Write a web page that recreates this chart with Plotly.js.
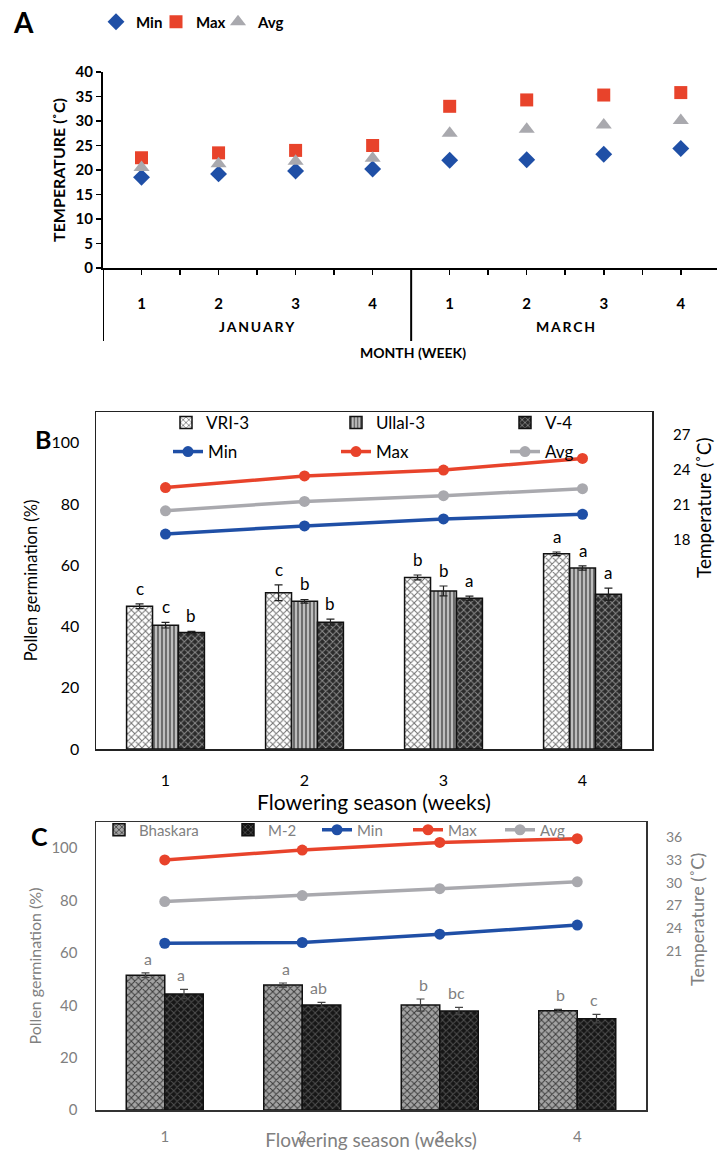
<!DOCTYPE html>
<html><head><meta charset="utf-8">
<script src="https://cdn.plot.ly/plotly-3.0.1.min.js"></script>
<style>html,body{margin:0;padding:0;background:#fff}</style>
</head><body><div id="chart" style="width:717px;height:1151px"></div>
<script>
// ---------- DATA ----------
const weekLabels = ['1','2','3','4'];
const monthNames = ['JANUARY','MARCH'];
// Panel A: weekly temperature (°C), Jan weeks 1-4 then March weeks 1-4
const tempMin = [18.5, 19.2, 19.8, 20.2, 22.0, 22.1, 23.2, 24.4];
const tempMax = [22.5, 23.5, 24.0, 25.0, 33.0, 34.3, 35.3, 35.8];
const tempAvg = [20.5, 21.3, 21.8, 22.4, 27.5, 28.3, 29.2, 30.1];
// Panel B: January pollen germination (%)
const weeks = [1, 2, 3, 4];
const vri3 = [46.6, 51.0, 56.0, 63.7];
const vri3Err = [0.8, 2.6, 0.8, 0.6];
const vri3Sig = ['c', 'c', 'b', 'a'];
const ullal3 = [40.4, 48.2, 51.6, 59.1];
const ullal3Err = [0.9, 0.6, 1.6, 0.7];
const ullal3Sig = ['c', 'b', 'b', 'a'];
const v4 = [38.0, 41.4, 49.2, 50.5];
const v4Err = [0.4, 1.0, 0.7, 2.0];
const v4Sig = ['b', 'b', 'a', 'a'];
// Panel C: March pollen germination (%)
const bhaskara = [51.5, 47.7, 40.1, 37.9];
const bhaskaraErr = [0.9, 0.8, 2.3, 0.5];
const bhaskaraSig = ['a', 'a', 'b', 'b'];
const m2 = [44.3, 40.1, 37.8, 34.9];
const m2Err = [1.8, 1.0, 1.4, 1.6];
const m2Sig = ['a', 'ab', 'bc', 'c'];

// ---------- STYLE ----------
const W = 717, H = 1151;
const px = v => v / W;
const py = v => 1 - v / H;
const FONT = 'Lato, "Open Sans", sans-serif';
const cMin = '#1f4fa6', cMax = '#e8432b', cAvg = '#a9a9ae';
const gray = '#808080';

const janIdx = [0,1,2,3], marIdx = [4,5,6,7];
const pick = (arr, idx) => idx.map(i => arr[i]);

const traces = [];
const legends = {};
let legCount = 0;
// one legend per entry so each entry sits where the reference puts it
function legendAt(symX, rowY, font) {
  legCount++;
  const id = legCount === 1 ? 'legend' : 'legend' + legCount;
  legends[id] = {x:px(symX - 20), y:py(rowY), xanchor:'left', yanchor:'middle', orientation:'v',
    bgcolor:'rgba(0,0,0,0)', borderwidth:0, font, itemwidth:30};
  return id;
}
const fontA = {family:FONT, size:15, weight:'bold', color:'#000'};
const fontB = {family:FONT, size:17, color:'#000'};
const fontC = {family:FONT, size:15, color:gray};

// Panel A
const aX = tempMin.map((_, i) => i);
traces.push({type:'scatter', mode:'markers', name:'Min', x:aX, y:tempMin, xaxis:'x', yaxis:'y',
  legend:legendAt(116, 22, fontA), marker:{symbol:'diamond', size:13, color:cMin}});
traces.push({type:'scatter', mode:'markers', name:'Max', x:aX, y:tempMax, xaxis:'x', yaxis:'y',
  legend:legendAt(176, 22, fontA), marker:{symbol:'square', size:13, color:cMax}});
traces.push({type:'scatter', mode:'markers', name:'Avg', x:aX, y:tempAvg, xaxis:'x', yaxis:'y',
  legend:legendAt(238, 22, fontA), marker:{symbol:'triangle-up', size:14, color:cAvg}});

// bars
function bar(name, y, err, bg, fg, shape, size, xa, ya, lg, ecol) {
  return {type:'bar', name, x:weeks, y, xaxis:xa, yaxis:ya, legend:lg,
    error_y:{type:'data', array:err, visible:true, color:ecol, thickness:1.2, width:4},
    marker:{color:bg, line:{color:'#111', width:1.5},
      pattern:{shape, fgcolor:fg, bgcolor:bg, fillmode:'replace', size, solidity:0.35}}};
}
function line(name, y, col, xa, ya, lg) {
  return {type:'scatter', mode:'lines+markers', name, x:weeks, y, xaxis:xa, yaxis:ya, legend:lg,
    line:{color:col, width:3.5}, marker:{color:col, size:11}};
}
// Panel B
traces.push(bar('VRI-3', vri3, vri3Err, '#ffffff', '#707070', 'x', 5, 'x2', 'y2', legendAt(186, 423, fontB), '#222'));
traces.push(bar('Ullal-3', ullal3, ullal3Err, '#bdbdbd', '#4a4a4a', '|', 4, 'x2', 'y2', legendAt(356, 423, fontB), '#222'));
traces.push(bar('V-4', v4, v4Err, '#2b2b2b', '#8c8c8c', 'x', 5, 'x2', 'y2', legendAt(525, 423, fontB), '#222'));
traces.push(line('Min', pick(tempMin, janIdx), cMin, 'x2', 'y3', legendAt(188, 452, fontB)));
traces.push(line('Max', pick(tempMax, janIdx), cMax, 'x2', 'y3', legendAt(356, 452, fontB)));
traces.push(line('Avg', pick(tempAvg, janIdx), cAvg, 'x2', 'y3', legendAt(525, 452, fontB)));
// Panel C
traces.push(bar('Bhaskara', bhaskara, bhaskaraErr, '#a3a3a3', '#3a3a3a', 'x', 5, 'x3', 'y4', legendAt(119, 830, fontC), '#444'));
traces.push(bar('M-2', m2, m2Err, '#161616', '#505050', 'x', 5, 'x3', 'y4', legendAt(248, 830, fontC), '#444'));
traces.push(line('Min', pick(tempMin, marIdx), cMin, 'x3', 'y5', legendAt(337, 830, fontC)));
traces.push(line('Max', pick(tempMax, marIdx), cMax, 'x3', 'y5', legendAt(428, 830, fontC)));
traces.push(line('Avg', pick(tempAvg, marIdx), cAvg, 'x3', 'y5', legendAt(520, 830, fontC)));

// ---------- ANNOTATIONS ----------
const ann = [];
const label = (text, x, y, size, color, weight) => ({text, x:px(x), y:py(y), xref:'paper', yref:'paper',
  xanchor:'center', yanchor:'middle', showarrow:false, font:{family:FONT, size, color, weight:weight||'bold'}});
ann.push(label('A', 24, 22, 28, '#000'));
ann.push(label('B', 43, 439, 25, '#000'));
ann.push(label('C', 39, 836, 25, '#000'));
// Panel A month labels
const spaced = s => s.split('').join('\u2009');
monthNames.forEach((m, i) => ann.push({text:spaced(m), x:1.5 + 4*i, xref:'x', y:py(326), yref:'paper',
  xanchor:'center', yanchor:'middle', showarrow:false, font:{family:FONT, size:14, weight:'bold', color:'#000'}}));
ann.push(label('MONTH (WEEK)', 413, 352, 14, '#000'));
// Right-side temperature titles
ann.push(Object.assign(label('Temperature (˚C)', 703, 508, 19, '#000', 'normal'), {textangle:-90}));
ann.push(Object.assign(label('Temperature (˚C)', 697, 920, 18, gray, 'normal'), {textangle:-90}));
// Significance letters
function letters(vals, errs, sig, off, xa, ya, col, size) {
  vals.forEach((v, i) => ann.push({text:sig[i], x:weeks[i] + off, y:v + errs[i], xref:xa, yref:ya,
    xanchor:'center', yanchor:'bottom', showarrow:false, yshift:3, font:{family:FONT, size, color:col}}));
}
const bwB = (1 - 0.44) / 3;
letters(vri3, vri3Err, vri3Sig, -bwB, 'x2', 'y2', '#000', 17);
letters(ullal3, ullal3Err, ullal3Sig, 0, 'x2', 'y2', '#000', 17);
letters(v4, v4Err, v4Sig, bwB, 'x2', 'y2', '#000', 17);
const bwC = (1 - 0.52) / 2;
letters(bhaskara, bhaskaraErr, bhaskaraSig, -bwC/2, 'x3', 'y4', gray, 16);
letters(m2, m2Err, m2Sig, bwC/2, 'x3', 'y4', gray, 16);

// ---------- SHAPES ----------
const shapes = [
  {type:'line', xref:'x', yref:'paper', x0:-0.5, x1:-0.5, y0:py(268), y1:py(341), line:{color:'#000', width:2}},
  {type:'line', xref:'x', yref:'paper', x0:3.5, x1:3.5, y0:py(268), y1:py(341), line:{color:'#000', width:2}}
];

// ---------- LAYOUT ----------
const boldTick = {family:FONT, size:15, weight:'bold', color:'#000'};
const layout = Object.assign({
  width:W, height:H, margin:{l:0, r:0, t:0, b:0}, paper_bgcolor:'#fff', plot_bgcolor:'rgba(0,0,0,0)',
  barmode:'group', showlegend:true, font:{family:FONT},
  annotations:ann, shapes,
  // Panel A
  xaxis:{domain:[px(103), 1], range:[-0.5, 7.47], anchor:'y', tickmode:'array',
    tickvals:aX, ticktext:weekLabels.concat(weekLabels), showline:true, linewidth:2, linecolor:'#000',
    ticks:'outside', ticklen:5, tickwidth:1.5, tickcolor:'#000', tickfont:boldTick, ticklabelstandoff:16,
    minor:{tickmode:'array', tickvals:[0.5,1.5,2.5,4.5,5.5,6.5], ticks:'outside', ticklen:5, tickwidth:1.5, tickcolor:'#000'},
    showgrid:false, zeroline:false},
  yaxis:{domain:[py(268), py(72)], range:[0, 40], anchor:'x', dtick:5, showline:true, linewidth:2, linecolor:'#000',
    ticks:'outside', ticklen:5, tickwidth:1.5, tickcolor:'#000', tickfont:boldTick, showgrid:false, zeroline:false,
    title:{text:'TEMPERATURE (˚C)', font:{family:FONT, size:16, weight:'bold', color:'#000'}, standoff:6}},
  // Panel B
  bargap:0.44,
  xaxis2:{domain:[px(96), px(652)], range:[0.5, 4.5], anchor:'y2', tickmode:'array', tickvals:weeks, ticktext:weekLabels,
    showline:true, mirror:true, linewidth:1.5, linecolor:'#222', ticks:'', tickfont:{family:FONT, size:16, color:'#000'},
    ticklabelstandoff:16, showgrid:false, zeroline:false,
    title:{text:'Flowering season (weeks)', font:{family:FONT, size:21, color:'#000'}, standoff:0}},
  yaxis2:{domain:[py(749), py(412)], range:[0, 110], anchor:'x2', tickvals:[0,20,40,60,80,100],
    showline:true, mirror:true, linewidth:1.5, linecolor:'#222', ticks:'', tickfont:{family:FONT, size:16, color:'#000'},
    ticklabelstandoff:12, showgrid:false, zeroline:false,
    title:{text:'Pollen germination (%)', font:{family:FONT, size:16.5, color:'#000'}, standoff:9}},
  yaxis3:{overlaying:'y2', side:'right', anchor:'x2', range:[0, 29], tickvals:[18,21,24,27], showline:false,
    ticks:'', tickfont:{family:FONT, size:15, color:'#000'}, ticklabelstandoff:20, showgrid:false, zeroline:false},
  // Panel C
  xaxis3:{domain:[px(96), px(646)], range:[0.5, 4.5], anchor:'y4', tickmode:'array', tickvals:weeks, ticktext:weekLabels,
    showline:true, mirror:true, linewidth:1.5, linecolor:'#333', ticks:'', tickfont:{family:FONT, size:15, color:gray},
    ticklabelstandoff:12, showgrid:false, zeroline:false,
    title:{text:'Flowering season (weeks)', font:{family:FONT, size:19, color:gray}}},
  yaxis4:{domain:[py(1110), py(822)], range:[0, 110], anchor:'x3', tickvals:[0,20,40,60,80,100],
    showline:true, mirror:true, linewidth:1.5, linecolor:'#333', ticks:'', tickfont:{family:FONT, size:15, color:gray},
    ticklabelstandoff:14, showgrid:false, zeroline:false,
    title:{text:'Pollen germination (%)', font:{family:FONT, size:16, color:gray}, standoff:6}},
  yaxis5:{overlaying:'y4', side:'right', anchor:'x3', range:[0, 38], tickvals:[21,24,27,30,33,36], showline:false,
    ticks:'', tickfont:{family:FONT, size:14, color:gray}, ticklabelstandoff:19, showgrid:false, zeroline:false}
}, legends);
Plotly.newPlot('chart', traces, layout, {staticPlot:true, displayModeBar:false});
</script></body></html>
